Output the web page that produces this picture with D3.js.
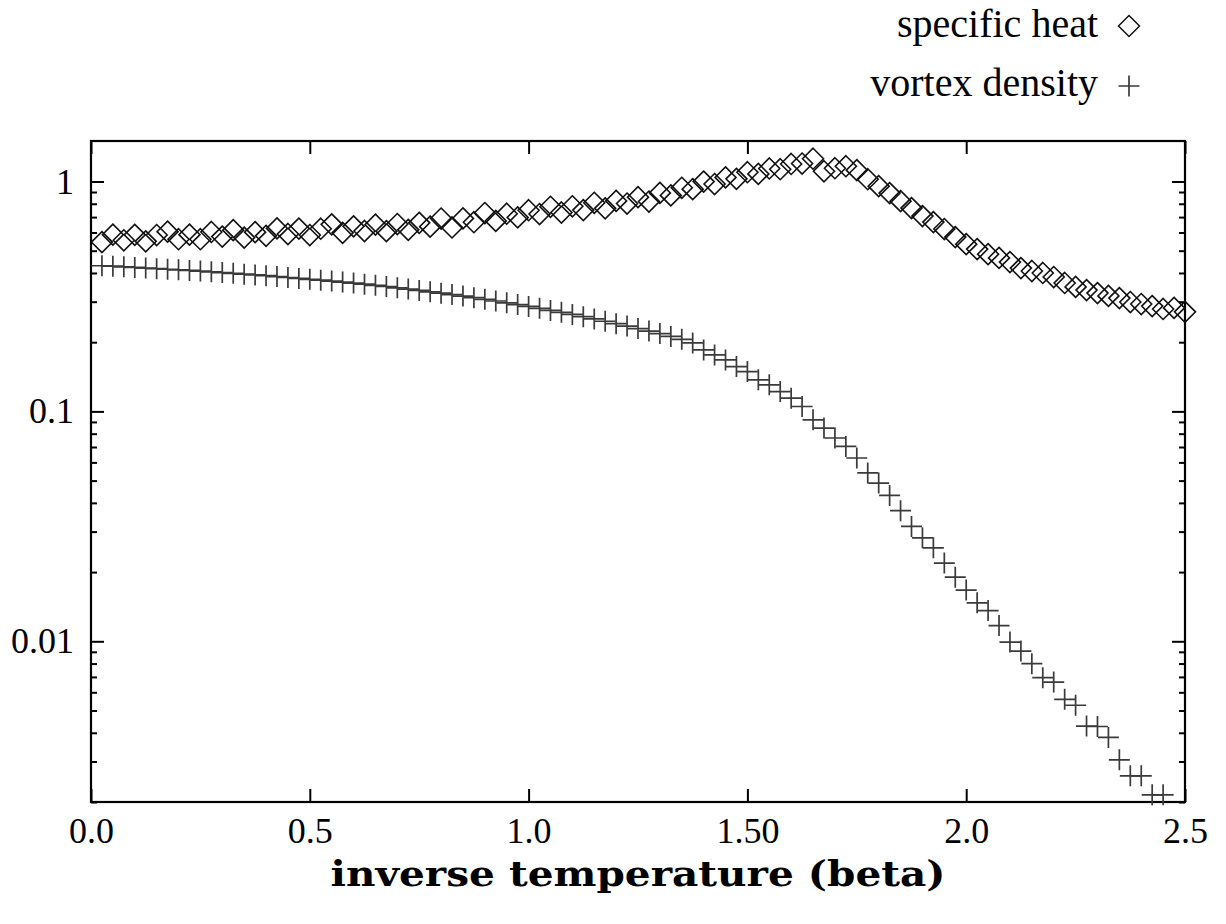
<!DOCTYPE html>
<html>
<head>
<meta charset="utf-8">
<script src="https://cdn.jsdelivr.net/npm/d3@7"></script>
<style>
  html, body { margin: 0; padding: 0; background: #fff; }
  svg text { font-family: "Liberation Serif", "Times New Roman", serif; fill: #000; }
</style>
</head>
<body>
<div id="chart"></div>
<script>
// inverse temperature grid (beta), step 0.025
const beta = [
  0.025, 0.05, 0.075, 0.1, 0.125, 0.15, 0.175, 0.2, 0.225, 0.25,
  0.275, 0.3, 0.325, 0.35, 0.375, 0.4, 0.425, 0.45, 0.475, 0.5,
  0.525, 0.55, 0.575, 0.6, 0.625, 0.65, 0.675, 0.7, 0.725, 0.75,
  0.775, 0.8, 0.825, 0.85, 0.875, 0.9, 0.925, 0.95, 0.975, 1.0,
  1.025, 1.05, 1.075, 1.1, 1.125, 1.15, 1.175, 1.2, 1.225, 1.25,
  1.275, 1.3, 1.325, 1.35, 1.375, 1.4, 1.425, 1.45, 1.475, 1.5,
  1.525, 1.55, 1.575, 1.6, 1.625, 1.65, 1.675, 1.7, 1.725, 1.75,
  1.775, 1.8, 1.825, 1.85, 1.875, 1.9, 1.925, 1.95, 1.975, 2.0,
  2.025, 2.05, 2.075, 2.1, 2.125, 2.15, 2.175, 2.2, 2.225, 2.25,
  2.275, 2.3, 2.325, 2.35, 2.375, 2.4, 2.425, 2.45, 2.475, 2.5
];

// specific heat (diamonds), one value per beta
const specificHeat = [
  0.545, 0.587, 0.555, 0.586, 0.549, 0.585, 0.605, 0.561, 0.587, 0.561,
  0.603, 0.576, 0.614, 0.570, 0.602, 0.580, 0.625, 0.591, 0.624, 0.585,
  0.623, 0.651, 0.598, 0.638, 0.609, 0.649, 0.608, 0.653, 0.616, 0.661,
  0.636, 0.690, 0.631, 0.691, 0.665, 0.729, 0.674, 0.724, 0.698, 0.750,
  0.722, 0.776, 0.733, 0.780, 0.751, 0.808, 0.764, 0.823, 0.802, 0.855,
  0.818, 0.892, 0.870, 0.939, 0.926, 0.999, 0.975, 1.042, 1.027, 1.097,
  1.079, 1.139, 1.131, 1.192, 1.197, 1.256, 1.108, 1.142, 1.165, 1.120,
  1.023, 0.954, 0.890, 0.821, 0.766, 0.707, 0.666, 0.621, 0.573, 0.534,
  0.508, 0.483, 0.465, 0.446, 0.420, 0.408, 0.400, 0.384, 0.362, 0.348,
  0.337, 0.327, 0.318, 0.311, 0.299, 0.293, 0.287, 0.279, 0.282, 0.271
];

// vortex density (pluses), first 98 beta values
const vortexDensity = [
  0.4300, 0.4280, 0.4254, 0.4228, 0.4203, 0.4178, 0.4153, 0.4128, 0.4103, 0.4075,
  0.4046, 0.4018, 0.3986, 0.3954, 0.3923, 0.3892, 0.3857, 0.3823, 0.3789, 0.3755,
  0.3721, 0.3688, 0.3651, 0.3614, 0.3575, 0.3535, 0.3493, 0.3448, 0.3403, 0.3360,
  0.3313, 0.3267, 0.3221, 0.3173, 0.3123, 0.3073, 0.3021, 0.2967, 0.2914, 0.2860,
  0.2806, 0.2750, 0.2696, 0.2640, 0.2583, 0.2524, 0.2467, 0.2408, 0.2351, 0.2293,
  0.2236, 0.2180, 0.2119, 0.2059, 0.1986, 0.1851, 0.1761, 0.1675, 0.1567, 0.1490,
  0.1372, 0.1305, 0.1220, 0.1142, 0.1050, 0.0919, 0.0846, 0.0766, 0.0704, 0.0627,
  0.0540, 0.0488, 0.0431, 0.0370, 0.0316, 0.0282, 0.0255, 0.0219, 0.0190, 0.0167,
  0.0147, 0.0136, 0.0117, 0.00992, 0.00907, 0.00799, 0.00695, 0.00665, 0.00559, 0.00527,
  0.00428, 0.00426, 0.00382, 0.00305, 0.00260, 0.00260, 0.00215, 0.00215
];

const xTicks = [0, 0.5, 1.0, 1.5, 2.0, 2.5];
const xTickLabels = ["0.0", "0.5", "1.0", "1.50", "2.0", "2.5"];
const yTicks = [0.01, 0.1, 1];
const yTickLabels = ["0.01", "0.1", "1"];

const seriesNames = ["specific heat", "vortex density"];
const xTitle = "inverse temperature (beta)";

// Layout
const W = 1226, H = 924;
const margin = { top: 141, right: 41, bottom: 122, left: 91 };
const width = W - margin.left - margin.right;
const height = H - margin.top - margin.bottom;

const svg = d3.select("#chart")
    .append("svg")
    .attr("width", W)
    .attr("height", H);

const g = svg.append("g")
    .attr("transform", "translate(" + margin.left + "," + margin.top + ")");

// Scales
const x = d3.scaleLinear().domain([0, 2.5]).range([0, width]);
const y = d3.scaleLog().domain([0.002, 1.5]).range([height, 0]);

// minor ticks 2..9 in every decade inside the domain
const minorTicks = [];
[0.001, 0.01, 0.1].forEach(dec => {
    for (let m = 2; m <= 9; m++) {
        const v = +(m * dec).toPrecision(3);
        if (v >= 0.002 && v <= 1.5) minorTicks.push(v);
    }
});

function styleAxis(sel) {
    sel.select(".domain").remove();
    sel.selectAll(".tick line").attr("stroke", "#000").attr("stroke-width", 2);
    sel.selectAll(".tick text")
        .style("font-size", "36px")
        .style("font-family", "'Liberation Serif', serif");
}

// bottom axis (ticks pointing inward)
g.append("g")
    .attr("transform", "translate(0," + height + ")")
    .call(d3.axisBottom(x).tickValues(xTicks)
        .tickFormat((d, i) => xTickLabels[i])
        .tickSizeInner(-13).tickSizeOuter(0).tickPadding(15))
    .call(styleAxis)
    .call(s => s.selectAll(".tick text").attr("dy", "0.71em"));

// top axis ticks
g.append("g")
    .call(d3.axisTop(x).tickValues(xTicks).tickFormat("")
        .tickSizeInner(-13).tickSizeOuter(0))
    .call(styleAxis);

// left axis: major ticks with labels
g.append("g")
    .call(d3.axisLeft(y).tickValues(yTicks)
        .tickFormat((d, i) => yTickLabels[i])
        .tickSizeInner(-13).tickSizeOuter(0).tickPadding(17))
    .call(styleAxis);

// left axis: minor ticks
g.append("g")
    .call(d3.axisLeft(y).tickValues(minorTicks).tickFormat("")
        .tickSizeInner(-6).tickSizeOuter(0))
    .call(styleAxis);

// right axis: major + minor ticks
g.append("g")
    .attr("transform", "translate(" + width + ",0)")
    .call(d3.axisRight(y).tickValues(yTicks).tickFormat("")
        .tickSizeInner(-13).tickSizeOuter(0))
    .call(styleAxis);

g.append("g")
    .attr("transform", "translate(" + width + ",0)")
    .call(d3.axisRight(y).tickValues(minorTicks).tickFormat("")
        .tickSizeInner(-6).tickSizeOuter(0))
    .call(styleAxis);

// frame
g.append("rect")
    .attr("x", 0).attr("y", 0)
    .attr("width", width).attr("height", height)
    .attr("fill", "none")
    .attr("stroke", "#000")
    .attr("stroke-width", 2.2);

// marker paths
const R = 10.5;
const diamondPath = (cx, cy) =>
    `M${cx},${cy - R}L${cx + R},${cy}L${cx},${cy + R}L${cx - R},${cy}Z`;
const plusPath = (cx, cy) =>
    `M${cx - R},${cy}H${cx + R}M${cx},${cy - R}V${cy + R}`;

// vortex density (pluses)
g.append("g")
    .selectAll("path")
    .data(vortexDensity)
    .enter()
    .append("path")
    .attr("d", (d, i) => plusPath(x(beta[i]), y(d)))
    .attr("fill", "none")
    .attr("stroke", "#3a3a3a")
    .attr("stroke-width", 1.7);

// specific heat (diamonds)
g.append("g")
    .selectAll("path")
    .data(specificHeat)
    .enter()
    .append("path")
    .attr("d", (d, i) => diamondPath(x(beta[i]), y(d)))
    .attr("fill", "none")
    .attr("stroke", "#111")
    .attr("stroke-width", 1.6);

// x-axis title
svg.append("text")
    .attr("x", margin.left + width / 2)
    .attr("y", 886)
    .attr("text-anchor", "middle")
    .attr("textLength", 615)
    .attr("lengthAdjust", "spacingAndGlyphs")
    .style("font-family", "'DejaVu Serif', serif")
    .style("font-size", "36px")
    .style("font-weight", "bold")
    .text(xTitle);

// legend (top right, outside the plot)
const legend = svg.append("g");
legend.append("text")
    .attr("x", 1098).attr("y", 37)
    .attr("text-anchor", "end")
    .style("font-size", "40px")
    .text(seriesNames[0]);
legend.append("path")
    .attr("d", diamondPath(1129, 26))
    .attr("fill", "none")
    .attr("stroke", "#111")
    .attr("stroke-width", 1.5);

legend.append("text")
    .attr("x", 1098).attr("y", 96)
    .attr("text-anchor", "end")
    .style("font-size", "40px")
    .text(seriesNames[1]);
legend.append("path")
    .attr("d", plusPath(1129, 86))
    .attr("fill", "none")
    .attr("stroke", "#3a3a3a")
    .attr("stroke-width", 1.7);
</script>
</body>
</html>
